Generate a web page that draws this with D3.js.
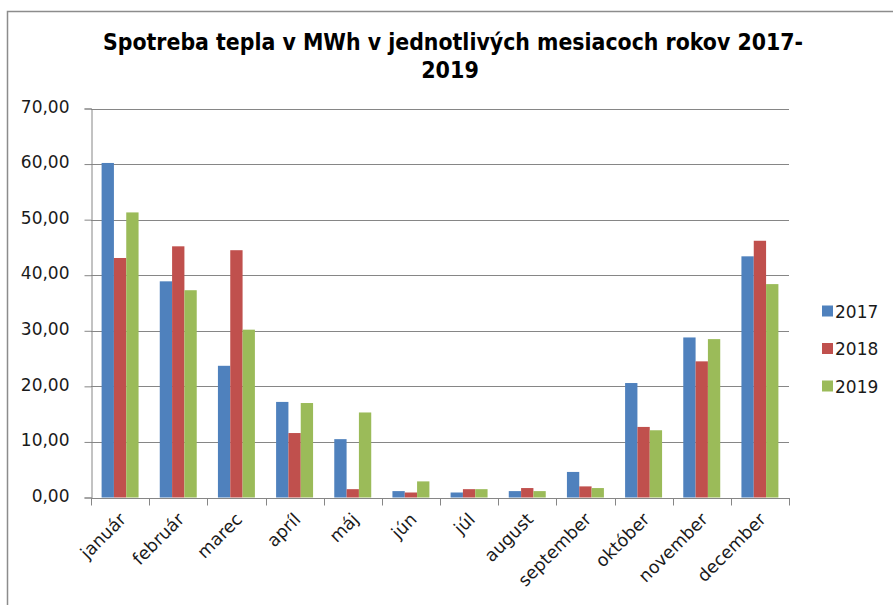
<!DOCTYPE html>
<html>
<head>
  <meta charset="utf-8">
  <title>Spotreba tepla</title>
  <style>
    body { margin: 0; background: #fff; }
    svg { display: block; font-family: "DejaVu Sans", Verdana, sans-serif; }
    .grid line { stroke: #868686; stroke-width: 1px; }
    .axis path, .axis line { stroke: #868686; stroke-width: 1px; }
    .axis text { fill: #1a1a1a; }
  </style>
</head>
<body>
  <svg width="893" height="605"></svg>

  <script src="https://cdn.jsdelivr.net/npm/d3@7"></script>
  <script>
    // Dáta
    const mesiace = ["január", "február", "marec", "apríl", "máj", "jún", "júl", "august", "september", "október", "november", "december"];
    const roky = ["2017", "2018", "2019"];
    const hodnoty2017 = [60.2, 38.9, 23.7, 17.2, 10.5, 1.15, 0.9, 1.15, 4.6, 20.6, 28.8, 43.4];
    const hodnoty2018 = [43.1, 45.2, 44.5, 11.6, 1.5, 0.9, 1.5, 1.7, 2.0, 12.7, 24.5, 46.2];
    const hodnoty2019 = [51.3, 37.3, 30.2, 17.0, 15.3, 2.9, 1.5, 1.15, 1.7, 12.1, 28.5, 38.4];
    const yTicky = [0, 10, 20, 30, 40, 50, 60, 70];
    const farby = ["#4F81BD", "#C0504D", "#9BBB59"];

    const serie = [hodnoty2017, hodnoty2018, hodnoty2019];

    // Rozmery grafu
    const plot = { left: 91, right: 789, top: 108.5, bottom: 497.5 };

    const svg = d3.select("svg");

    // Rámček grafu
    svg.append("path")
      .attr("d", "M7.5,605 V11.5 H893")
      .attr("fill", "none")
      .attr("stroke", "#8c8c8c")
      .attr("stroke-width", 1.5);

    // Nadpis
    const title = svg.append("g")
      .attr("font-family", "'DejaVu Sans Condensed', 'DejaVu Sans', sans-serif")
      .attr("font-weight", "bold")
      .attr("font-size", 23)
      .attr("fill", "#000")
      .attr("text-anchor", "middle");
    title.append("text")
      .attr("x", 453).attr("y", 50)
      .attr("textLength", 700)
      .attr("lengthAdjust", "spacingAndGlyphs")
      .text("Spotreba tepla v MWh v jednotlivých mesiacoch rokov 2017-");
    title.append("text")
      .attr("x", 450).attr("y", 78)
      .text("2019");

    // Mierky
    const x = d3.scaleBand()
      .domain(mesiace)
      .range([plot.left, plot.right])
      .padding(0);

    const x1 = d3.scaleBand()
      .domain(roky)
      .range([0, x.bandwidth()])
      .paddingInner(0)
      .paddingOuter(0.86);

    const y = d3.scaleLinear()
      .domain([0, 70])
      .range([plot.bottom, plot.top]);

    // Mriežka
    svg.append("g")
      .attr("class", "grid")
      .selectAll("line")
      .data(yTicky.filter(d => d > 0))
      .enter()
      .append("line")
      .attr("x1", plot.left)
      .attr("x2", plot.right)
      .attr("y1", d => Math.round(y(d)) + 0.5)
      .attr("y2", d => Math.round(y(d)) + 0.5);

    // Stĺpce
    const skupiny = svg.append("g")
      .selectAll("g")
      .data(mesiace)
      .enter()
      .append("g")
      .attr("transform", d => `translate(${x(d)},0)`);

    skupiny.selectAll("rect")
      .data((m, i) => roky.map((r, j) => ({ rok: r, idx: j, hodnota: serie[j][i] })))
      .enter()
      .append("rect")
      .attr("x", d => x1(d.rok))
      .attr("width", x1.bandwidth())
      .attr("y", d => y(d.hodnota))
      .attr("height", d => y(0) - y(d.hodnota))
      .attr("fill", d => farby[d.idx]);

    // Os Y
    const formatCislo = d => d3.format(".2f")(d).replace(".", ",");
    const yAxis = svg.append("g")
      .attr("class", "axis")
      .attr("transform", `translate(${plot.left + 0.5},0)`)
      .call(d3.axisLeft(y).tickValues(yTicky).tickFormat(formatCislo).tickSize(7).tickPadding(15));
    yAxis.selectAll("text")
      .attr("font-size", 17)
      .attr("font-family", "'DejaVu Sans', sans-serif")
      .attr("dy", "0.22em");

    // Os X
    const xAxis = svg.append("g")
      .attr("class", "axis")
      .attr("transform", `translate(0,${Math.round(plot.bottom) + 0.5})`);
    xAxis.append("line")
      .attr("x1", plot.left).attr("x2", plot.right + 1);
    xAxis.selectAll(".tick")
      .data(d3.range(mesiace.length + 1))
      .enter()
      .append("line")
      .attr("x1", i => Math.round(plot.left + i * x.step()) + 0.5)
      .attr("x2", i => Math.round(plot.left + i * x.step()) + 0.5)
      .attr("y1", 0)
      .attr("y2", 7);

    // Popisy mesiacov
    svg.append("g")
      .selectAll("text")
      .data(mesiace)
      .enter()
      .append("text")
      .attr("transform", d => `translate(${x(d) + x.bandwidth() / 2 + 7},${plot.bottom + 23}) rotate(-45)`)
      .attr("text-anchor", "end")
      .attr("font-size", 17.5)
      .attr("fill", "#1a1a1a")
      .text(d => d);

    // Legenda
    const legenda = svg.append("g")
      .selectAll("g")
      .data(roky)
      .enter()
      .append("g")
      .attr("transform", (d, i) => `translate(822,${311.5 + i * 37.5})`);

    legenda.append("rect")
      .attr("x", 0)
      .attr("y", -6)
      .attr("width", 11)
      .attr("height", 11)
      .attr("fill", (d, i) => farby[i]);

    legenda.append("text")
      .attr("x", 13)
      .attr("y", 0)
      .attr("dy", "0.36em")
      .attr("font-size", 17)
      .attr("fill", "#1a1a1a")
      .text(d => d);
  </script>
</body>
</html>
